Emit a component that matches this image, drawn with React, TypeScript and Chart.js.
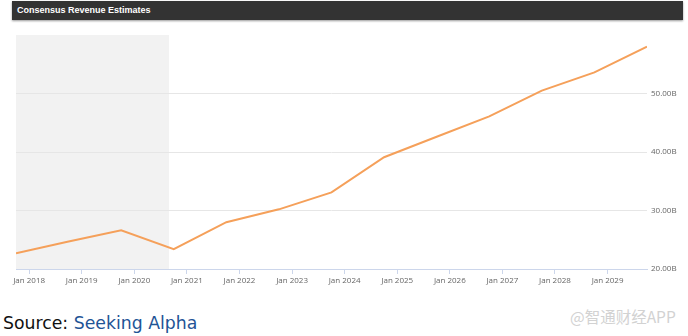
import React, { useEffect, useRef } from "react";
import { Chart, registerables } from "chart.js";

Chart.register(...registerables);

// Fiscal-year end points (decimal years) and consensus revenue (USD billions)
const periodLabels = ["Oct 2017", "Oct 2018", "Oct 2019", "Oct 2020", "Oct 2021", "Oct 2022", "Oct 2023", "Oct 2024", "Oct 2025", "Oct 2026", "Oct 2027", "Oct 2028", "Oct 2029"];
const periodX = [2017.75, 2018.75, 2019.75, 2020.75, 2021.75, 2022.75, 2023.75, 2024.75, 2025.75, 2026.75, 2027.75, 2028.75, 2029.75];
const revenue = [22.7, 24.7, 26.6, 23.4, 28.0, 30.2, 33.1, 39.1, 42.6, 46.1, 50.5, 53.6, 58.0];

// Axis ticks
const xTickYears = [2018, 2019, 2020, 2021, 2022, 2023, 2024, 2025, 2026, 2027, 2028, 2029];
const yTickValues = [20, 30, 40, 50];
const xRange = [2017.75, 2029.75];
const yRange = [20, 60];

// Shaded (historical) band
const historyBand = [2017.75, 2020.66];

const title = "Consensus Revenue Estimates";

export default function App() {
  const ref = useRef<HTMLCanvasElement | null>(null);

  useEffect(() => {
    if (!ref.current) return;
    const bandPlugin = {
      id: "band",
      beforeDraw(chart: any) {
        const { ctx, chartArea, scales } = chart;
        const x0 = scales.x.getPixelForValue(historyBand[0]);
        const x1 = scales.x.getPixelForValue(historyBand[1]);
        ctx.save();
        ctx.fillStyle = "#f2f2f2";
        ctx.fillRect(x0, chartArea.top, x1 - x0, chartArea.bottom - chartArea.top);
        ctx.restore();
      },
    };
    const chart = new Chart(ref.current, {
      type: "line",
      data: {
        datasets: [
          {
            label: "Revenue",
            data: periodX.map((x, i) => ({ x, y: revenue[i] })),
            borderColor: "#f5a05a",
            backgroundColor: "#f5a05a",
            borderWidth: 2,
            pointRadius: 0,
            tension: 0,
          },
        ],
      },
      options: {
        responsive: false,
        animation: false,
        layout: { padding: { left: 16, top: 35, right: 0, bottom: 0 } },
        plugins: { legend: { display: false }, tooltip: { enabled: false } },
        scales: {
          x: {
            type: "linear",
            min: xRange[0],
            max: xRange[1],
            afterBuildTicks: (s: any) => {
              s.ticks = xTickYears.map((v) => ({ value: v }));
            },
            afterFit: (s: any) => {
              s.height = 31;
            },
            ticks: {
              autoSkip: false,
              maxRotation: 0,
              padding: 2,
              color: "#666666",
              font: { family: "'Open Sans', sans-serif", size: 8 },
              callback: (v: any) => "Jan " + v,
            },
            grid: {
              drawOnChartArea: false,
              drawTicks: true,
              tickLength: 5,
              color: "#ccd6eb",
            },
            border: { display: true, color: "#ccd6eb", width: 1 },
          },
          y: {
            position: "right",
            min: yRange[0],
            max: yRange[1],
            afterBuildTicks: (s: any) => {
              s.ticks = yTickValues.map((v) => ({ value: v }));
            },
            afterFit: (s: any) => {
              s.width = 41;
            },
            ticks: {
              padding: 4,
              color: "#666666",
              font: { family: "'Open Sans', sans-serif", size: 8 },
              callback: (v: any) => Number(v).toFixed(2) + "B",
            },
            grid: { color: "#e6e6e6", drawTicks: false, lineWidth: 1 },
            border: { display: false },
          },
        },
      },
      plugins: [bandPlugin],
    } as any);
    return () => chart.destroy();
  }, []);

  return (
    <div style={{ position: "fixed", left: 0, top: 0, width: 688, height: 336, background: "#ffffff", overflow: "hidden" }}>
      <div
        style={{
          position: "absolute",
          left: 12,
          top: 1,
          width: 671,
          height: 19,
          background: "#333333",
          boxShadow: "0 1px 2px #999999",
          color: "#ffffff",
          fontFamily: "'Liberation Sans', Arial, sans-serif",
          fontWeight: "bold",
          fontSize: 9,
          lineHeight: "19px",
          paddingLeft: 5,
          boxSizing: "border-box",
        }}
      >
        {title}
      </div>
      <canvas ref={ref} width={688} height={300} style={{ position: "absolute", left: 0, top: 0, width: 688, height: 300 }} />
      <div
        style={{
          position: "absolute",
          left: 3,
          top: 312,
          fontFamily: "'DejaVu Sans', Verdana, sans-serif",
          fontSize: 17.3,
          lineHeight: "22px",
          color: "#111111",
          whiteSpace: "nowrap",
        }}
      >
        Source: <span style={{ color: "#1f5496" }}>Seeking Alpha</span>
      </div>
      <div
        style={{
          position: "absolute",
          left: 570,
          top: 306,
          fontFamily: "'Noto Sans CJK SC', 'Noto Sans', sans-serif",
          fontSize: 15.5,
          lineHeight: "20px",
          color: "#d2d2d2",
          whiteSpace: "nowrap",
        }}
      >
        @智通财经APP
      </div>
    </div>
  );
}
